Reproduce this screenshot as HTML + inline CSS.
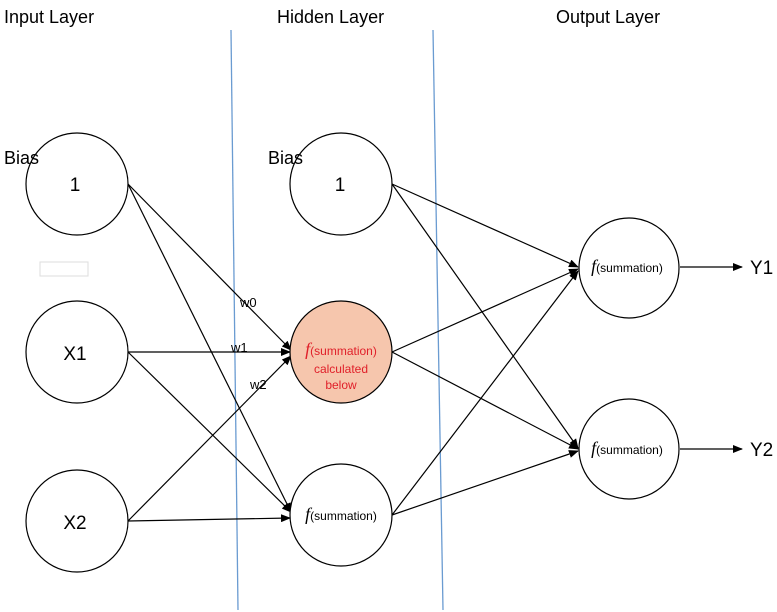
<!DOCTYPE html>
<html><head><style>
body{margin:0;background:#fff;}
svg{display:block;font-family:"Liberation Sans",sans-serif;}
</style></head><body>
<svg width="777" height="612" viewBox="0 0 777 612">
<defs><marker id="a" markerWidth="10" markerHeight="8" refX="9" refY="4" orient="auto" markerUnits="userSpaceOnUse"><path d="M0,0 L10,4 L0,8 z" fill="#000"/></marker></defs>
<line x1="231" y1="30" x2="238" y2="610" stroke="#6a9bd1" stroke-width="1.3"/>
<line x1="433" y1="30" x2="443" y2="610" stroke="#6a9bd1" stroke-width="1.3"/>
<text x="4" y="23" font-size="18">Input Layer</text>
<text x="277" y="23" font-size="18">Hidden Layer</text>
<text x="556" y="23" font-size="18">Output Layer</text>
<g stroke="#000" stroke-width="1.2" fill="none" marker-end="url(#a)">
<line x1="128" y1="184" x2="291" y2="350"/>
<line x1="128" y1="184" x2="291" y2="512"/>
<line x1="128" y1="352" x2="290" y2="352"/>
<line x1="128" y1="352" x2="291" y2="512"/>
<line x1="128" y1="521" x2="291" y2="356"/>
<line x1="128" y1="521" x2="290" y2="518"/>
<line x1="392" y1="184" x2="578" y2="267"/>
<line x1="392" y1="184" x2="578" y2="448"/>
<line x1="392" y1="352" x2="578" y2="269"/>
<line x1="392" y1="352" x2="578" y2="449"/>
<line x1="392" y1="515" x2="578" y2="271"/>
<line x1="392" y1="515" x2="578" y2="451"/>
<line x1="680" y1="267" x2="742" y2="267"/>
<line x1="680" y1="449" x2="742" y2="449"/>
</g>
<g stroke="#000" stroke-width="1.2" fill="#fff">
<circle cx="77" cy="184" r="51"/>
<circle cx="77" cy="352" r="51"/>
<circle cx="77" cy="521" r="51"/>
<circle cx="341" cy="184" r="51"/>
<circle cx="341" cy="352" r="51" fill="#f6c6ad"/>
<circle cx="341" cy="515" r="51"/>
<circle cx="629" cy="268" r="50"/>
<circle cx="629" cy="449" r="50"/>
</g>
<rect x="40" y="262" width="48" height="14" fill="#fff" stroke="#ddd"/>
<g font-size="19" text-anchor="middle">
<text x="75" y="191">1</text><text x="75" y="360">X1</text><text x="75" y="529">X2</text>
<text x="340" y="191">1</text>
</g>
<text x="4" y="164" font-size="18">Bias</text>
<text x="268" y="164" font-size="18">Bias</text>
<g font-size="13"><text x="240" y="307">w0</text><text x="231" y="352">w1</text><text x="250" y="389">w2</text></g>
<g fill="#e0202a" text-anchor="middle" font-size="12">
<text x="341" y="355"><tspan font-family="Liberation Serif" font-style="italic" font-size="18">f</tspan>(summation)</text>
<text x="341" y="373">calculated</text><text x="341" y="389">below</text>
</g>
<g font-size="12" text-anchor="middle">
<text x="341" y="520"><tspan font-family="Liberation Serif" font-style="italic" font-size="18">f</tspan>(summation)</text>
<text x="627" y="272"><tspan font-family="Liberation Serif" font-style="italic" font-size="18">f</tspan>(summation)</text>
<text x="627" y="454"><tspan font-family="Liberation Serif" font-style="italic" font-size="18">f</tspan>(summation)</text>
</g>
<text x="750" y="274" font-size="19">Y1</text>
<text x="750" y="456" font-size="19">Y2</text>
</svg>
</body></html>
